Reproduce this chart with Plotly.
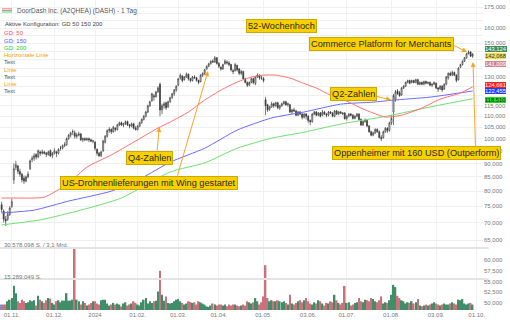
import plotly.graph_objects as go
import pandas as pd
import math

# ---------------- trading calendar (categories) ----------------
holidays = ["2023-11-23", "2023-12-25", "2024-01-01", "2024-01-15", "2024-02-19",
            "2024-03-29", "2024-05-27", "2024-06-19", "2024-07-04", "2024-09-02"]
days = [d.strftime("%Y-%m-%d") for d in pd.bdate_range("2023-10-25", "2024-10-01")
        if d.strftime("%Y-%m-%d") not in holidays]
pos = {d: i for i, d in enumerate(days)}

tick_dates = ["2023-11-01", "2023-12-01", "2024-01-02", "2024-02-01", "2024-03-01", "2024-04-01",
              "2024-05-01", "2024-06-03", "2024-07-01", "2024-08-01", "2024-09-03", "2024-10-01"]
tick_labels = ["01.11.", "01.12.", "2024", "01.02.", "01.03.", "01.04.",
               "01.05.", "03.06.", "01.07.", "01.08.", "03.09.", "01.10."]

# ---------------- daily OHLC (25.10.2023 - 27.09.2024) ----------------
open_ = [75.5, 73.5, 71, 71, 72.5,
         75, 84, 88.5, 89, 87, 86, 84.5, 83.5, 85, 88, 91.5, 92, 93.5, 92.5, 94.5, 94, 94.5, 94, 93.5, 95, 93,
         94, 94.5, 94, 96, 96, 97, 97.5, 100, 101.5, 103, 102.5, 101, 101.5, 102, 99.5, 100, 99.5, 100, 99.5, 99,
         98.5, 95.5, 94, 93, 95, 98.5, 101, 103.5, 104, 103, 104.5, 104, 106, 107, 106, 106.5, 107.5, 106, 105.5, 106.5, 104.5,
         104, 105.5, 107, 108.5, 110, 112, 115, 117.5, 120, 119.5, 122, 126, 113, 115, 116.5, 114.5, 117, 119, 121, 123,
         125.5, 129.5, 130.5, 128.5, 130, 131.5, 129, 128, 130, 129.5, 128, 127.5, 131, 132, 134.5, 136, 137.5, 139, 138.5, 141,
         137.7, 135.5, 134.5, 137.5, 138.5, 138, 137, 133.5, 133.5, 136.5, 134.5, 132, 133, 129, 127, 125.5, 127, 129, 126.5, 130, 131, 129.5,
         129, 118, 115.5, 113.5, 114.5, 116, 115, 116.5, 114, 115, 116, 117, 115.5, 115.5, 112, 113, 112.5, 110.5, 112, 111, 109.5, 111,
         110, 108, 107.5, 111, 112, 110.5, 111.5, 110.5, 112, 111, 110.5, 112, 111.5, 110, 112.5, 111, 112, 111.5, 111.5,
         109, 110, 111, 110.5, 109, 110, 111, 108.5, 106, 107.5, 108, 105.5, 103, 101.5, 102.5, 104, 103, 100.5, 100.5, 103, 104.5, 103.5,
         107, 112, 118, 122.5, 121.5, 120.5, 124, 125, 127, 128, 127, 128, 127, 128.5, 126, 127, 126, 127.5, 126.5, 127, 125.5, 126,
         126.5, 124, 123.5, 125, 123.5, 126, 129.5, 132, 131, 132.5, 131, 128.5, 135.5, 137, 139, 141, 143.5, 144.5, 142]
high = [76.5, 74, 72, 73.5, 75,
        77.5, 90, 91, 89.5, 88, 86.5, 85.5, 85.5, 87, 91.5, 93, 94, 94, 95.5, 95, 95.5, 95, 94.5, 95, 95.5, 94.5,
        96, 95, 96, 97, 97.5, 98.5, 100.5, 102, 103, 104, 103.5, 102.5, 103, 102.5, 100.5, 100.5, 100.5, 100.5, 100, 99.5,
        99, 96, 94.5, 95, 99.5, 101.5, 104, 105, 104.5, 105.5, 105, 106.5, 107.5, 107.5, 107, 108, 108, 106.5, 107, 107, 105.5,
        106, 107.5, 109, 110.5, 112.5, 115.5, 117.5, 121.5, 121, 122.5, 125, 127, 116, 117, 117, 117.5, 119.5, 121.5, 123.5, 125.5,
        129.5, 132, 131, 130.5, 132.5, 132, 129.5, 130.5, 131, 130, 128.5, 131.5, 132.5, 134.5, 136.5, 138, 139.5, 140, 142.07, 141.5,
        138.5, 136, 137.5, 140, 139.5, 139, 137.5, 134.5, 138, 137, 135, 134, 133.5, 129.5, 127.5, 127.5, 129.5, 129.5, 130.5, 132, 131.5, 130.5,
        130, 119.5, 116, 115, 117, 116.5, 117, 117, 115.5, 116.5, 117.5, 117.5, 116.5, 116, 113.5, 114, 113, 112.5, 112.5, 111.5, 111.5, 111.5,
        110.5, 108.5, 111.5, 112.5, 112.5, 112, 112, 113, 112.5, 111.5, 112.5, 112.5, 112, 113, 113, 112.5, 112.5, 112, 112,
        110.5, 111.5, 111.5, 111, 110.5, 111.5, 111.5, 109, 108, 109, 108.5, 106, 103.5, 103, 104.5, 104.5, 103.5, 101.5, 103.5, 105, 105, 107.5,
        110.5, 121, 123, 123.5, 122.5, 124.5, 125.5, 127.5, 128.5, 128.5, 128.5, 128.5, 129, 129, 127.5, 127.5, 128, 128, 127.5, 127.5, 126.5, 127.5,
        127, 124.5, 125.5, 125.5, 126.5, 130.5, 132.5, 133, 133.5, 133, 131.5, 135.5, 137.5, 139.5, 141.5, 144, 145.5, 145, 144]
low = [73, 70, 69, 70.5, 72,
       74.5, 82.5, 87.5, 86, 85, 83, 82.5, 83, 84.5, 87.5, 90.5, 91, 91.5, 92, 93, 93.5, 93.5, 92.5, 93, 92.5, 92,
       93.5, 92.5, 93.5, 95, 95.5, 96.5, 97, 99.5, 100.5, 101.5, 100, 100, 101, 99, 98.5, 99, 99, 98.5, 98.5, 98,
       95, 93, 92.5, 92.5, 94.5, 98, 100.5, 102.5, 102, 102.5, 103, 103.5, 105.5, 105.5, 105, 106, 105.5, 104.5, 105, 104, 103.5,
       103.5, 105, 106.5, 108, 109.5, 111.5, 114.5, 117, 117.5, 119, 121.5, 110, 111, 113.5, 113, 114, 116.5, 118.5, 120, 122,
       125, 128.5, 127, 128, 129.5, 128, 127, 127.5, 129, 127.5, 126, 127, 130, 131, 134, 135.5, 137, 138, 138, 137,
       135, 133.5, 134, 137, 137, 136, 133, 131.5, 133, 133, 131, 131, 128.5, 126.5, 124.5, 125, 126.5, 126, 125.5, 129.5, 128.5, 128.5,
       127, 110.5, 112, 112.5, 114, 114, 114.5, 113.5, 113, 114.5, 115.5, 115, 114.5, 111.5, 111, 112, 110, 110, 110.5, 108.5, 109, 108.5,
       107, 106, 107, 110.5, 110, 110, 109.5, 110, 110.5, 109.5, 110, 111, 109.5, 109.5, 110.5, 110.5, 111, 110.5, 108.5,
       108, 109.5, 110, 108.5, 108.5, 109.5, 108, 105.5, 105.5, 107, 105, 102.5, 101, 101, 102, 102.5, 100, 99, 100, 102.5, 102.5, 103,
       106, 106, 117, 120.5, 119.5, 120, 123.5, 124.5, 126.5, 126, 126.5, 126.5, 126.5, 125.5, 125.5, 125.5, 125.5, 126, 126, 125, 124.5, 125.5,
       123.5, 122, 123, 122, 123, 125.5, 128.5, 130.5, 130.5, 130.5, 127, 128, 135, 136.5, 138.5, 140.5, 143, 141.5, 141]
close = [74, 71, 70.5, 72.5, 74.5,
         76.5, 88, 89.5, 87, 86, 84, 83.5, 85, 86, 91, 92, 93, 92.5, 95, 94, 94.5, 94, 93.5, 94.5, 93, 94,
         95, 94, 95.5, 96, 97, 97.5, 100, 101.5, 102.5, 103, 101, 101.5, 102, 99.5, 100, 99.5, 100, 99.5, 99, 99,
         96, 94, 93, 94.5, 99, 101, 103.5, 104, 103, 105, 104, 106, 107, 106, 106.5, 107.5, 106, 105.5, 106.5, 104.5, 104,
         105.5, 107, 108.5, 110, 112, 115, 117, 121, 119.5, 122, 124, 113, 115, 116, 114, 117, 119, 121, 123, 125,
         129, 131, 128, 130, 131.5, 129, 128, 130, 129.5, 128, 127, 131, 132, 134, 136, 137.5, 139, 138.5, 141, 137.7,
         136, 134.5, 137, 139, 138, 137, 134, 133, 137, 134, 132, 133, 129, 127, 125.5, 127, 129, 127, 130, 131, 129.5, 129.1,
         128, 115, 113, 114.5, 116, 115, 116.5, 114, 115, 116, 117, 115.5, 116, 112, 113, 112.5, 110.5, 112, 111, 109.5, 111, 110,
         108, 107.5, 111, 112, 110.5, 111.5, 110, 112, 111, 110.5, 112, 111.5, 110, 112.5, 111, 112, 111.5, 111.2, 108.8,
         110, 111, 110.5, 109, 110, 111, 108.5, 106, 107.5, 108, 105.5, 103, 101.5, 102.5, 104, 103, 100.5, 100, 103, 104.5, 103.5, 107,
         109, 120, 122, 121, 120, 124, 125, 127, 128, 126.5, 128, 127, 128.5, 126, 127, 126, 127.5, 126.5, 127, 125.5, 126, 127,
         124, 123.5, 125, 123, 126, 130, 132, 131, 132.5, 131, 128, 135, 137, 139, 141, 143.5, 144.5, 142, 143.12]

# daily volume in millions of shares
volume_m = [2.7, 2.7, 2.7, 4.3, 5.1, 5.9, 11.9,
            8.3, 4.3, 3.5, 5.1, 4.3, 3.5, 3.8, 4.8, 4.3, 4.8, 2.2, 7.0, 5.1, 4.3, 3.5, 4.8, 5.9, 5.6, 3.5, 2.7,
            4.3, 4.8, 3.8, 4.6, 4.6, 8.3, 4.6, 4.6, 5.1, 30.578098, 5.1, 4.3, 2.7, 4.3, 3.5, 2.2,
            2.7, 3.5, 4.3, 4.3, 3.2, 2.7, 4.8, 5.1, 5.1, 3.2, 2.2, 2.7, 3.5, 2.7, 3.2, 2.7, 1.8, 3.2, 3.8, 2.2,
            2.7, 3.2, 4.3, 3.5, 2.7, 2.2, 3.8, 5.1, 5.9, 3.2, 4.3, 3.5, 4.3, 4.6, 9.1, 19.3,
            7.5, 4.6, 6.7, 3.5,
            3.2, 3.5, 4.3, 5.1, 5.4, 4.3, 3.5, 2.7, 3.2, 4.3, 4.0, 3.5, 3.8, 2.7, 4.3, 3.8, 3.2, 2.7, 1.8, 1.5,
            2.2, 3.2, 2.7, 2.2, 2.7, 2.7, 2.2, 2.7, 1.8, 2.7, 2.2, 2.7, 2.7, 2.2, 1.8, 2.2, 2.7, 2.2, 4.3, 3.8,
            3.2, 3.8, 5.9, 4.3, 2.7, 3.8, 6.7, 22.1, 5.9, 4.3, 4.8, 4.3, 4.3, 4.8, 4.3, 3.8, 4.3, 3.5, 2.7, 7.5,
            3.2, 2.7, 3.5, 4.3, 4.8, 3.8, 4.8, 5.9, 4.3, 3.2, 2.7, 3.8, 3.2, 4.8, 4.3, 3.2, 2.2, 3.5, 3.2, 4.3,
            3.8, 7.5, 4.8, 3.5,
            2.7, 3.5, 11.9, 3.5, 3.8, 2.2, 2.7, 3.5, 3.8, 5.9, 4.3, 3.8, 5.1, 4.8, 4.3, 5.9, 5.4, 4.3, 3.8, 4.8,
            6.7, 3.2, 3.8, 3.5, 4.8, 7.5, 12.4, 11.3, 7.0, 5.9, 4.8, 4.3, 3.2, 3.8, 3.5, 4.3, 3.2, 3.8, 5.4, 2.2,
            1.8, 2.2, 2.7, 2.2, 2.7, 3.2, 3.8, 3.2, 2.7, 2.2, 2.7, 3.2, 2.7, 2.7, 3.2, 3.8, 3.2, 2.7, 5.1, 4.8,
            5.4, 3.2, 2.7, 3.2, 3.5, 2.7]

# moving averages (read at sample dates)
gd50_dates = ["2023-10-25", "2023-11-02", "2023-11-24", "2023-12-12", "2023-12-26", "2024-01-12", "2024-01-30",
              "2024-02-15", "2024-02-26", "2024-03-08", "2024-03-20", "2024-04-02", "2024-04-12", "2024-04-23",
              "2024-05-01", "2024-05-09", "2024-05-20", "2024-05-28", "2024-06-07", "2024-06-18", "2024-07-01",
              "2024-07-11", "2024-07-19", "2024-07-29", "2024-08-08", "2024-08-22", "2024-09-05", "2024-09-19",
              "2024-09-27"]
gd50_vals = [77.7, 77.7, 78.0, 82.8, 88.6, 93.3, 98.5, 104.6, 107.3, 112.0, 117.8, 122.9, 127.2, 129.9,
             131.0, 131.0, 129.4, 127.2, 124.0, 120.3, 117.3, 113.9, 111.5, 109.6, 110.5, 113.9, 118.3, 121.4,
             124.661]
gd150_dates = ["2023-10-25", "2023-11-16", "2023-12-12", "2024-01-12", "2024-02-05", "2024-02-26", "2024-03-20",
               "2024-04-12", "2024-05-07", "2024-05-30", "2024-06-26", "2024-07-19", "2024-08-02", "2024-08-28",
               "2024-09-27"]
gd150_vals = [72.9, 73.8, 76.7, 80.0, 84.6, 90.5, 96.0, 103.7, 109.2, 112.0, 115.8, 116.8, 117.8, 119.3, 122.455]
gd200_dates = ["2023-10-25", "2023-11-21", "2023-12-20", "2024-01-22", "2024-02-26", "2024-03-20", "2024-04-12",
               "2024-05-07", "2024-05-30", "2024-06-26", "2024-07-30", "2024-08-28", "2024-09-27"]
gd200_vals = [69.3, 70.8, 73.8, 77.7, 86.8, 90.2, 96.0, 100.2, 102.8, 106.4, 110.1, 114.4, 118.510]

high_52w = 142.068
last_price = 143.124
third_price = 141.009
vol_max_label = "30.578.098 S. / 3,1 Mrd."
vol_half_label = "15.289.049 S."
vol_max = 30.578098
vol_half = 15.289049

price_ticks = [65, 70, 75, 80, 85, 90, 95, 100, 105, 110, 115, 120, 125, 130, 135, 140, 145, 150, 155, 160, 165, 170, 175]
price_hidden = [120, 125, 135, 140, 145, 155, 165, 170]
vol_axis_ticks = [50000, 52500, 55000, 57500, 60000]

# ---------------- geometry ----------------
W, H = 510, 320
MR, MB = 27, 10
PW, PH = W - MR, H - MB
SPLIT = 242  # px from top where price pane ends
FONT = "Liberation Sans, Arial, sans-serif"


def pp(x, y):
    return x / PW, 1 - y / PH


xs = list(range(len(close)))
X_LEFT, X_RIGHT = -0.81, 237.1

fig = go.Figure()

# volume
vcol = []
for i in range(len(close)):
    if i == 0:
        vcol.append("#6f8fdc")
    elif close[i] >= close[i - 1]:
        vcol.append("#3f8d69")
    else:
        vcol.append("#c9727c")
fig.add_trace(go.Bar(x=xs, y=volume_m[:len(xs)], marker=dict(color=vcol, line=dict(width=0)),
                     yaxis="y2", xaxis="x", width=0.78, hoverinfo="skip"))
fig.add_trace(go.Scatter(x=[], y=[], yaxis="y3", xaxis="x", hoverinfo="skip"))

# moving averages
for dts, vals, col in [(gd200_dates, gd200_vals, "#6fe06f"),
                       (gd150_dates, gd150_vals, "#6a6aff"),
                       (gd50_dates, gd50_vals, "#ff7070")]:
    fig.add_trace(go.Scatter(x=[pos[d] for d in dts], y=vals, mode="lines",
                             line=dict(color=col, width=1, shape="spline", smoothing=0.6),
                             yaxis="y", xaxis="x", hoverinfo="skip"))

# candles
fig.add_trace(go.Candlestick(x=xs, open=open_, high=high, low=low, close=close,
                             increasing=dict(line=dict(color="#3a3a3a", width=0.7), fillcolor="#ffffff"),
                             decreasing=dict(line=dict(color="#3a3a3a", width=0.7), fillcolor="#3a3a3a"),
                             whiskerwidth=0, yaxis="y", xaxis="x", hoverinfo="skip"))

shapes = []
# 52-week high dashed line
shapes.append(dict(type="line", xref="paper", x0=0, x1=1, yref="y",
                   y0=math.log10(high_52w), y1=math.log10(high_52w),
                   line=dict(color="#f5a623", width=1.2, dash="3px,2px")))
# volume reference lines
for v in (vol_max, vol_half):
    shapes.append(dict(type="line", xref="paper", x0=0, x1=1.012, yref="y2", y0=v, y1=v,
                       line=dict(color="#e4e4e4", width=2)))
# title icon
for yy, c in ((8.8, "#f08080"), (10.4, "#999999"), (12.0, "#5fcf5f")):
    a, b = pp(2, yy)
    a2, _ = pp(12, yy)
    shapes.append(dict(type="line", xref="paper", yref="paper", x0=a, x1=a2, y0=b, y1=b,
                       line=dict(color=c, width=1)))

ann = []


def text(t, x, y, color, size, xanchor="left"):
    a, b = pp(x, y)
    ann.append(dict(text=t, x=a, y=b, xref="paper", yref="paper", xanchor=xanchor, yanchor="middle",
                    showarrow=False, font=dict(family=FONT, size=size, color=color)))


text("DoorDash Inc. (A2QHEA) (DASH) - 1 Tag", 15, 10.7, "#555555", 6.5)
text("Aktive Konfiguration: GD 50 150 200", 2.5, 24, "#444444", 6)
text("GD: 50", 2, 33.3, "#ff4d4d", 6)
text("GD: 150", 2, 40.7, "#5b5bff", 6)
text("GD: 200", 2, 47.7, "#22cc22", 6)
text("Horizontale Linie", 2, 55, "#f5a000", 6)
text("Text", 2, 62.3, "#555555", 6)
text("Linie", 2, 70, "#f5a000", 6)
text("Text", 2, 77.3, "#555555", 6)
text("Linie", 2, 84.3, "#f5a000", 6)
text("Text", 2, 90.7, "#555555", 6)
text(vol_max_label, 1.5, 244.5, "#777777", 6)
text(vol_half_label, 1.5, 276.5, "#777777", 6)

# arrows (tail -> head)
arrows = [((452, 44.5), (467, 52)),
          ((375.5, 96), (391, 100)),
          ((157, 152), (159.3, 127)),
          ((177, 177), (208, 71)),
          ((475.5, 148), (473, 62))]
for (tx, ty), (hx, hy) in arrows:
    a, b = pp(hx, hy)
    ann.append(dict(text="", x=a, y=b, xref="paper", yref="paper", ax=tx - hx, ay=ty - hy,
                    showarrow=True, arrowhead=2, arrowsize=1, arrowwidth=1, arrowcolor="#f5a623",
                    standoff=0, startstandoff=0))

# yellow boxes
boxes = [("52-Wochenhoch", 281.5, 26.5),
         ("Commerce Platform for Merchants", 381, 44),
         ("Q2-Zahlen", 353, 93.5),
         ("Q4-Zahlen", 149, 157.5),
         ("US-Drohnenlieferungen mit Wing gestartet", 149, 182.5),
         ("Oppenheimer mit 160 USD (Outperform)", 416, 153)]
for t, x, y in boxes:
    a, b = pp(x, y)
    ann.append(dict(text=t, x=a, y=b, xref="paper", yref="paper", xanchor="center", yanchor="middle",
                    showarrow=False, bgcolor="#f8d000", bordercolor="#c9a800", borderwidth=1, borderpad=1,
                    font=dict(family=FONT, size=9.2, color="#2a2a2a")))


def fmt(v):
    return f"{v:,.3f}".replace(",", "X").replace(".", ",").replace("X", ".")


# right-side value labels
labels = [(fmt(last_price), 48.8, "#3c8c5e", "#ffffff"),
          (fmt(high_52w), 56.3, "#efe04c", "#333333"),
          (fmt(third_price), 63.6, "#d4858d", "#ffffff"),
          (fmt(gd50_vals[-1]), 85, "#ff1a1a", "#ffffff"),
          (fmt(gd150_vals[-1]), 90.5, "#1f3cff", "#ffffff"),
          (fmt(gd200_vals[-1]), 99.5, "#22dd22", "#1a1a1a")]
for t, y, bg, fc in labels:
    a, b = pp(485, y)
    ann.append(dict(text=t, x=a, y=b, xref="paper", yref="paper", xanchor="left", yanchor="middle",
                    showarrow=False, bgcolor=bg, borderpad=0, borderwidth=0,
                    font=dict(family=FONT, size=5.8, color=fc)))

p_dom0 = 1 - SPLIT / PH
# price log-range from pixel calibration (175 at y=7, 65 at y=240)
ppd = 233 / (math.log10(175) - math.log10(65))
top_log = math.log10(175) + 7 / ppd
bot_log = math.log10(65) - (SPLIT - 240) / ppd
# volume pane ranges
vol_top = vol_max * (PH - SPLIT) / (PH - 248)
v3_per_px = 10000 / (303 - 260)
v3_top = 60000 + (260 - SPLIT) * v3_per_px
v3_bot = 50000 - (PH - 303) * v3_per_px

fig.update_layout(
    width=W, height=H, margin=dict(l=0, r=MR, t=0, b=MB),
    paper_bgcolor="white", plot_bgcolor="white", showlegend=False,
    font=dict(family=FONT),
    xaxis=dict(domain=[0, 1], range=[X_LEFT, X_RIGHT], anchor="y2",
               tickmode="array", tickvals=[pos[d] for d in tick_dates], ticktext=tick_labels,
               tickfont=dict(size=6, color="#777777"), showgrid=True, gridcolor="#f0f0f0",
               zeroline=False, ticks="", showline=False, rangeslider=dict(visible=False)),
    yaxis=dict(domain=[p_dom0, 1], type="log", range=[bot_log, top_log], side="right", anchor="x",
               tickmode="array", tickvals=price_ticks,
               ticktext=["" if v in price_hidden else fmt(v) for v in price_ticks],
               tickfont=dict(size=6, color="#777777"), showgrid=True, gridcolor="#efefef",
               zeroline=False, ticks="", showline=False),
    yaxis2=dict(domain=[0, p_dom0], range=[0, vol_top], anchor="x", showticklabels=False,
                showgrid=False, zeroline=False, showline=False),
    yaxis3=dict(overlaying="y2", side="right", anchor="x", range=[v3_bot, v3_top],
                tickmode="array", tickvals=vol_axis_ticks, ticktext=[fmt(v / 1000) for v in vol_axis_ticks],
                tickfont=dict(size=6, color="#777777"), showgrid=False, zeroline=False, ticks="", showline=False),
    shapes=shapes, annotations=ann, bargap=0.2,
)

fig.write_html("out.html", config={"displayModeBar": False})
